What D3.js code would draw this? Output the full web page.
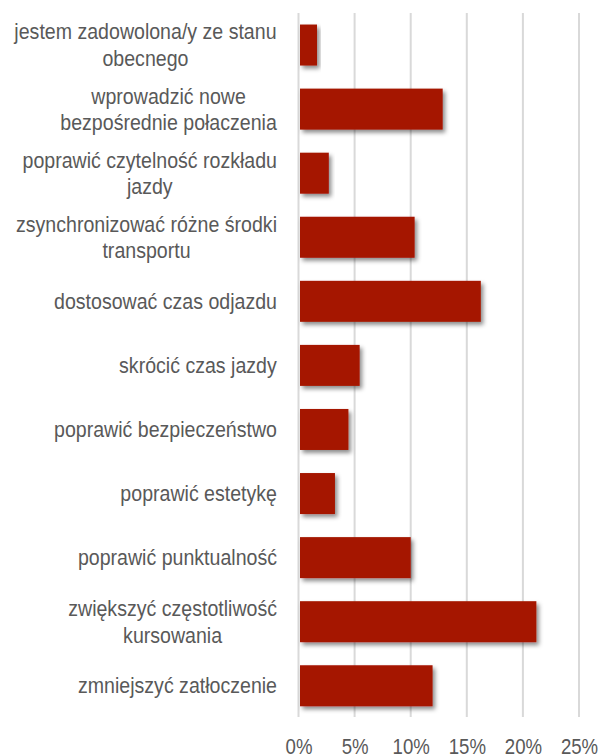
<!DOCTYPE html>
<html>
<head>
<meta charset="utf-8">
<script src="https://cdn.jsdelivr.net/npm/d3@7"></script>
<style>
  html, body { margin: 0; padding: 0; background: #fff; }
  svg { display: block; }
  text { font-family: "Liberation Sans", Arial, sans-serif; }
</style>
</head>
<body>
<script>
const categories = [
  ["jestem zadowolona/y ze stanu", "obecnego"],
  ["wprowadzić nowe", "bezpośrednie połaczenia"],
  ["poprawić czytelność rozkładu", "jazdy"],
  ["zsynchronizować różne środki", "transportu"],
  ["dostosować czas odjazdu"],
  ["skrócić czas jazdy"],
  ["poprawić bezpieczeństwo"],
  ["poprawić estetykę"],
  ["poprawić punktualność"],
  ["zwiększyć częstotliwość", "kursowania"],
  ["zmniejszyć zatłoczenie"]
];
const values = [1.65, 12.85, 2.7, 10.35, 16.25, 5.45, 4.45, 3.25, 10.0, 21.2, 11.95];
const tickValues = [0, 5, 10, 15, 20, 25];
const tickLabels = ["0%", "5%", "10%", "15%", "20%", "25%"];

const W = 607, H = 756;
const svg = d3.select("body").append("svg").attr("width", W).attr("height", H);

const defs = svg.append("defs");
const f = defs.append("filter").attr("id", "shadow")
  .attr("x", "-10%").attr("y", "-20%").attr("width", "130%").attr("height", "160%");
f.append("feDropShadow").attr("dx", 2.5).attr("dy", 3).attr("stdDeviation", 2)
  .attr("flood-color", "#000").attr("flood-opacity", 0.45);

const ids = categories.map((d, i) => i);
const y = d3.scaleBand().domain(ids).range([13, 717.8]).paddingInner(0.36).paddingOuter(0.18);
const x = d3.scaleLinear().domain([0, 25]).range([298.5, 579]);

// gridlines
svg.append("g").selectAll("line").data(tickValues).join("line")
  .attr("x1", d => x(d)).attr("x2", d => x(d))
  .attr("y1", 13).attr("y2", 717)
  .attr("stroke", "#d9d9d9").attr("stroke-width", 2);

// bars
svg.append("g").selectAll("rect").data(values).join("rect")
  .attr("x", x(0) + 1.5)
  .attr("y", (d, i) => y(i))
  .attr("width", d => x(d) - x(0) - 1.5)
  .attr("height", y.bandwidth())
  .attr("fill", "#a51505")
  .attr("filter", "url(#shadow)");

// category labels (narrow look: horizontal compression)
const labSx = 0.89, lh = 26.5;
const lab = svg.append("g").selectAll("text").data(categories).join("text")
  .attr("font-size", 22)
  .attr("fill", "#595959")
  .attr("text-anchor", "middle")
  .attr("transform", `translate(277,0) scale(${labSx},1)`);
lab.each(function(lines, i) {
  const t = d3.select(this);
  const cy = y(i) + y.bandwidth() / 2;
  lines.forEach((s, j) => {
    t.append("tspan").attr("x", 0)
      .attr("y", cy + (j - (lines.length - 1) / 2) * lh)
      .attr("dy", "0.35em").text(s);
  });
});
lab.each(function() {
  const bb = this.getBBox();
  d3.select(this).selectAll("tspan").attr("x", -bb.width / 2);
});

// x axis labels
const ax = d3.axisBottom(x).tickValues(tickValues).tickFormat((d, i) => tickLabels[i]).tickSize(0).tickPadding(0);
const g = svg.append("g").attr("transform", "translate(0,754)").call(ax);
g.select(".domain").remove();
g.selectAll("text").attr("font-size", 23).attr("fill", "#595959")
  .attr("font-family", null).attr("y", 0).attr("dy", 0)
  .attr("transform", "scale(0.81,1)");
</script>
</body>
</html>
